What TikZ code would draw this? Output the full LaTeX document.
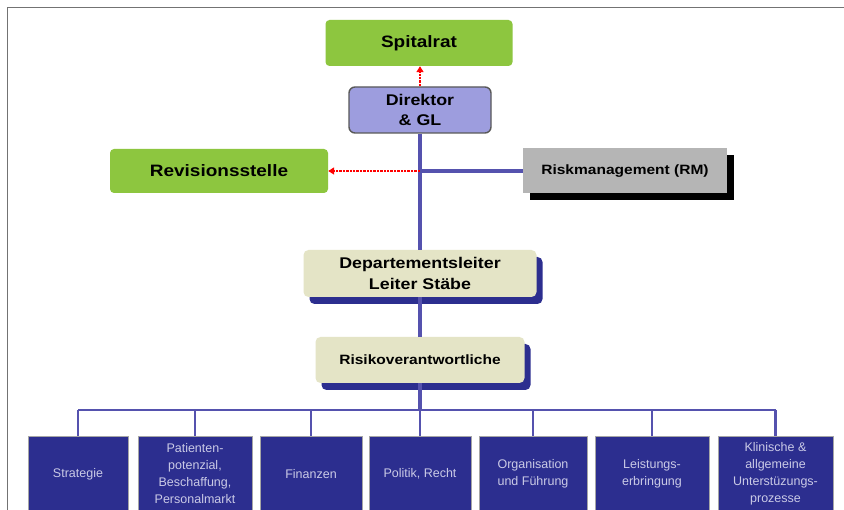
\documentclass[tikz,border=0pt]{standalone}
\usepackage{fontspec}
\setmainfont{Liberation Sans}
\newfontfamily\boxfont{Liberation Sans}[FakeStretch=1.15]
\usetikzlibrary{arrows.meta, shadows}
\definecolor{boardgreen}{HTML}{8DC63F}
\definecolor{headlilac}{HTML}{9D9DDE}
\definecolor{riskgray}{HTML}{B5B5B5}
\definecolor{staffbeige}{HTML}{E4E4C6}
\definecolor{unitblue}{HTML}{2C2E8F}
\definecolor{linkblue}{HTML}{5552AE}
\definecolor{unittext}{HTML}{CACAE6}

\begin{document}
\begin{tikzpicture}[x=1pt, y=-1pt,
  greenbox/.style={rounded corners=4pt, fill=boardgreen, inner sep=0pt, align=center,
    font=\boxfont\bfseries\fontsize{16.5}{19}\selectfont},
  headbox/.style={rounded corners=6pt, fill=headlilac, draw=black!65, line width=1.4pt,
    inner sep=0pt, align=center, font=\boxfont\bfseries\fontsize{15.5}{20}\selectfont},
  riskbox/.style={fill=riskgray, inner sep=0pt, align=center,
    drop shadow={shadow xshift=7pt, shadow yshift=-7pt, fill=black, opacity=1},
    font=\boxfont\bfseries\fontsize{13.5}{15}\selectfont},
  staffbox/.style={rounded corners=5pt, fill=staffbeige, inner sep=0pt, align=center,
    drop shadow={shadow xshift=6pt, shadow yshift=-7pt, fill=unitblue, opacity=1},
    font=\boxfont\bfseries\fontsize{15.5}{21}\selectfont},
  unitbox/.style={fill=unitblue, draw=black!35, line width=0.6pt, inner sep=0pt,
    minimum height=76pt, align=center, text=unittext, font=\fontsize{12.5}{17}\selectfont},
  orgline/.style={draw=linkblue, line width=3.2pt},
  redlink/.style={draw=red, densely dotted, line width=2.4pt,
    -{Triangle[length=6pt, width=7pt]}}]

  \useasboundingbox (0, 0) rectangle (844, 510);
  \fill[white] (0, 0) rectangle (844, 510);
  \draw[black!55, line width=1pt] (7, 512) -- (7, 8) -- (846, 8);

  \node[greenbox, minimum width=187pt, minimum height=46pt]  (spital)   at (419, 43)    {Spitalrat};
  \node[headbox, minimum width=142pt, minimum height=46pt]   (direktor) at (420, 110)   {Direktor\\\& GL};
  \node[greenbox, minimum width=218pt, minimum height=44pt]  (revision) at (219, 171)   {Revisionsstelle};
  \node[riskbox, minimum width=204pt, minimum height=45pt]   (risk)     at (625, 171)   {Riskmanagement (RM)};
  \node[staffbox, minimum width=233pt, minimum height=47pt]  (dept)     at (420, 273.5) {Departementsleiter\\Leiter Stäbe};
  \node[staffbox, minimum width=209pt, minimum height=46pt]  (risiko)   at (420, 360)   {\fontsize{13.5}{15}\selectfont Risikoverantwortliche};

  \node[unitbox, minimum width=100pt] (u1) at (78, 474)    {Strategie};
  \node[unitbox, minimum width=114pt] (u2) at (195, 474)   {Patienten-\\potenzial,\\Beschaffung,\\Personalmarkt};
  \node[unitbox, minimum width=102pt] (u3) at (311, 474)   {Finanzen};
  \node[unitbox, minimum width=102pt] (u4) at (420, 474)   {Politik, Recht};
  \node[unitbox, minimum width=108pt] (u5) at (533, 474)   {Organisation\\und Führung};
  \node[unitbox, minimum width=114pt] (u6) at (652, 474)   {Leistungs-\\erbringung};
  \node[unitbox, minimum width=115pt] (u7) at (775.5, 474) {Klinische \&\\allgemeine\\Unterstüzungs-\\prozesse};

  \coordinate (junction) at (420, 171);
  \coordinate (bus)      at (420, 410);

  \draw[redlink] (direktor.north) -- (spital.south -| direktor.north);
  \draw[orgline] (direktor.south) -- (dept.north);
  \draw[orgline] (junction) -- (risk.west);
  \draw[redlink] (junction) -- (revision.east);
  \draw[orgline] (dept.south) -- (risiko.north);
  \draw[orgline] (risiko.south) -- (bus);
  \draw[orgline, line width=2.4pt] (bus -| u1.north) -- (bus -| u7.north);
  \foreach \u in {u1, u2, u3, u4, u5, u6, u7}
    \draw[orgline, line width=2.4pt] (bus -| \u.north) -- (\u.north);
\end{tikzpicture}
\end{document}
